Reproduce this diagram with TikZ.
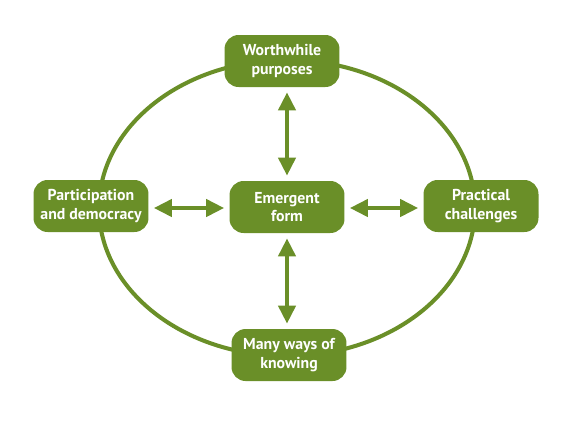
\documentclass[tikz,border=0pt]{standalone}
\usepackage{fontspec}
\setmainfont{PT Sans}
\usepackage{xcolor}
\usetikzlibrary{arrows.meta}
\definecolor{leaf}{RGB}{106,143,40}

\begin{document}
\begin{tikzpicture}[x=0.02cm, y=-0.02cm,
    box/.style={fill=leaf, text=white, rounded corners=8pt, align=center,
        minimum width=2.3cm, minimum height=1.04cm, inner sep=1pt,
        font=\fontsize{9}{10.5}\selectfont\bfseries},
    twoway/.style={{Triangle[width=0.34cm,length=0.36cm]}-{Triangle[width=0.34cm,length=0.36cm]},
        line width=2.3pt, leaf, shorten <=0.1cm, shorten >=0.1cm}]
% Frame of the picture
\useasboundingbox (0,0) rectangle (573,420);

% Big ring behind the boxes
\draw[leaf, line width=2.3pt] (287,208) ellipse (188 and 148);

% Boxes
\node[box] (purposes) at (282,61) {Worthwhile\\purposes};
\node[box] (participation) at (91,206) {Participation\\and democracy};
\node[box] (emergent) at (287,207) {Emergent\\form};
\node[box] (practical) at (481,206) {Practical\\challenges};
\node[box] (knowing) at (289,355) {Many ways of\\knowing};

% Two-way arrows to the middle
\draw[twoway] (emergent.north -| 287,0) -- (purposes.south -| 287,0);
\draw[twoway] (emergent.south -| 287,0) -- (knowing.north -| 287,0);
\draw[twoway] (emergent.west |- 0,208) -- (participation.east |- 0,208);
\draw[twoway] (emergent.east |- 0,208) -- (practical.west |- 0,208);

\end{tikzpicture}
\end{document}
